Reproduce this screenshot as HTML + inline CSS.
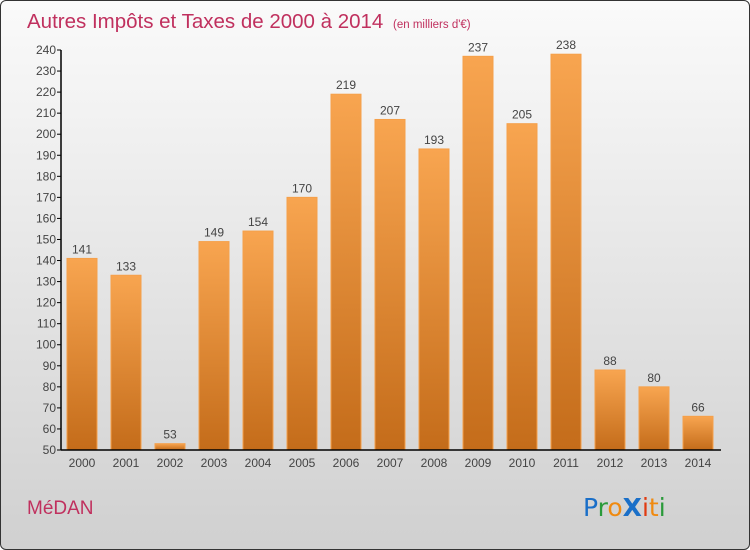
<!DOCTYPE html>
<html><head><meta charset="utf-8"><style>
html,body{margin:0;padding:0}
body{width:750px;height:550px;overflow:hidden;font-family:"Liberation Sans",sans-serif}
#frame{position:absolute;left:0;top:0;width:748px;height:548px;border:1px solid #333;border-radius:6px;background:linear-gradient(#fafafa,#f2f2f2 20%,#d0d0d0)}
</style></head><body>
<div id="frame"></div>
<svg id="chart" width="750" height="550" style="position:absolute;left:0;top:0">
<defs><linearGradient id="bg" x1="0" y1="0" x2="0" y2="1"><stop offset="0" stop-color="#f8a550"/><stop offset="1" stop-color="#c46c1a"/></linearGradient></defs>
<text x="27" y="28" font-size="20.5" fill="#c0305e">Autres Impôts et Taxes de 2000 à 2014 <tspan font-size="11.5" dx="4">(en milliers d'€)</tspan></text>
<text x="27" y="514" font-size="19" fill="#c0305e">MéDAN</text>
<g font-size="25" style="font-family:'DejaVu Sans',sans-serif">
<text x="583" y="516"><tspan fill="#1a6fc8">P</tspan><tspan fill="#2a9a3a">r</tspan><tspan fill="#f08a10">o</tspan><tspan fill="#1a6fc8" font-weight="bold">X</tspan><tspan fill="#e03a10">i</tspan><tspan fill="#f08a10">t</tspan><tspan fill="#2a9a3a">i</tspan></text></g>
<g id="g"></g>
</svg>
<script>
const categories=["2000","2001","2002","2003","2004","2005","2006","2007","2008","2009","2010","2011","2012","2013","2014"];
const values=[141,133,53,149,154,170,219,207,193,237,205,238,88,80,66];
const yTicks=[50,60,70,80,90,100,110,120,130,140,150,160,170,180,190,200,210,220,230,240];
const NS="http://www.w3.org/2000/svg",g=document.getElementById("g");
const x0=61,slot=44,yMin=50,yMax=240,yTop=50,yBot=450;
const y=v=>yBot-(v-yMin)*(yBot-yTop)/(yMax-yMin);
const xc=i=>x0+slot*i+21;
function el(t,a){const e=document.createElementNS(NS,t);for(const k in a)e.setAttribute(k,a[k]);g.appendChild(e);return e;}
values.forEach((v,i)=>{
 const r=el("rect",{x:xc(i)-15,y:y(v),width:30,height:yBot-y(v),fill:"url(#bg)",stroke:"#f5a04a","stroke-width":1});
 
 
 const t=el("text",{x:xc(i),y:y(v)-5,"text-anchor":"middle","font-size":12,fill:"#444"});t.textContent=v;
 
 
 const c=el("text",{x:xc(i),y:467,"text-anchor":"middle","font-size":12,fill:"#444"});c.textContent=categories[i];
 
 
});
yTicks.forEach(v=>{
 el("line",{x1:57,x2:61,y1:y(v),y2:y(v),stroke:"#000"});
 const t=el("text",{x:56,y:y(v)+4,"text-anchor":"end","font-size":12,fill:"#444"});t.textContent=v;
 
 
});
const ya=el("line",{x1:61,x2:61,y1:y(240),y2:yBot,stroke:"#000","stroke-width":1.5});


const xa=el("line",{x1:61,x2:721,y1:yBot,y2:yBot,stroke:"#000","stroke-width":1.5});


</script>
</body></html>
